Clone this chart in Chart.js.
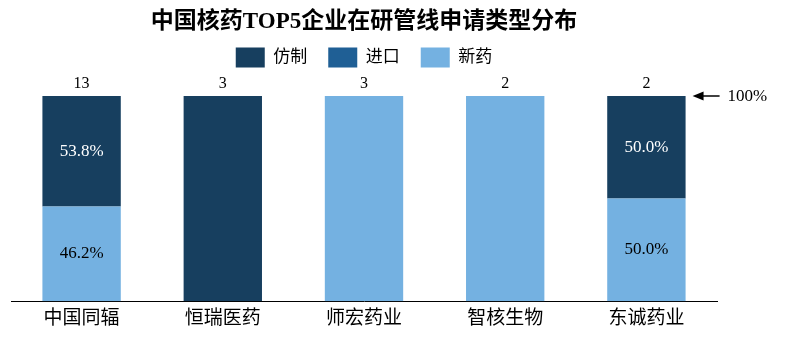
<!DOCTYPE html>
<html><head><meta charset="utf-8">
<script src="https://cdn.jsdelivr.net/npm/chart.js@4.4.1/dist/chart.umd.min.js"></script>
<style>html,body{margin:0;padding:0;background:#fff;}#wrap{width:792px;height:343px;position:relative;}</style>
</head><body><div id="wrap"><canvas id="c"></canvas></div>
<script>
const categories = ['中国同辐', '恒瑞医药', '师宏药业', '智核生物', '东诚药业'];
const seriesNames = ['仿制', '进口', '新药'];
const genericCounts = [7, 3, 0, 0, 1];
const importCounts = [0, 0, 0, 0, 0];
const novelCounts = [6, 0, 3, 2, 1];
const totals = [13, 3, 3, 2, 2];
const titleText = '中国核药TOP5企业在研管线申请类型分布';
const refLabel = '100%';

const FONT = "'Liberation Serif', 'Noto Sans CJK SC', serif";
Chart.defaults.font.family = FONT;
Chart.defaults.color = '#000';

const toPct = arr => arr.map((v, i) => totals[i] ? v / totals[i] * 100 : 0);

const legendGap = {
  id: 'legendGap',
  beforeInit(chart) {
    const f = chart.legend.fit;
    chart.legend.fit = function () { f.call(this); this.height += 18.4; };
  }
};

const barLabels = {
  id: 'barLabels',
  afterDatasetsDraw(chart) {
    const ctx = chart.ctx;
    ctx.save();
    ctx.textAlign = 'center';
    ctx.textBaseline = 'middle';
    chart.data.datasets.forEach((ds, di) => {
      const meta = chart.getDatasetMeta(di);
      meta.data.forEach((bar, i) => {
        const v = ds.data[i];
        if (v > 0 && v < 100) {
          ctx.font = '17px ' + FONT;
          ctx.fillStyle = ds.labelColor;
          ctx.fillText(v.toFixed(1) + '%', bar.x, (bar.y + bar.base) / 2);
        }
      });
    });
    const ys = chart.scales.y, xs = chart.scales.x;
    const yTop = ys.getPixelForValue(100);
    ctx.font = '16px ' + FONT;
    ctx.fillStyle = '#000';
    categories.forEach((c, i) => {
      ctx.fillText(String(totals[i]), xs.getPixelForValue(i), yTop - 12.5);
    });
    // arrow to 100%
    const lastMeta = chart.getDatasetMeta(0).data[categories.length - 1];
    const tip = lastMeta.x + lastMeta.width / 2 + 7;
    const tail = tip + 27;
    ctx.strokeStyle = '#000';
    ctx.lineWidth = 1.5;
    ctx.beginPath();
    ctx.moveTo(tip + 8, yTop);
    ctx.lineTo(tail, yTop);
    ctx.stroke();
    ctx.beginPath();
    ctx.moveTo(tip, yTop);
    ctx.lineTo(tip + 11, yTop - 4.5);
    ctx.lineTo(tip + 11, yTop + 4.5);
    ctx.closePath();
    ctx.fillStyle = '#000';
    ctx.fill();
    ctx.textAlign = 'left';
    ctx.font = '17px ' + FONT;
    ctx.fillText(refLabel, tail + 8, yTop + 1);
    ctx.restore();
  }
};

new Chart(document.getElementById('c'), {
  type: 'bar',
  data: {
    labels: categories,
    datasets: [
      { label: seriesNames[2], data: toPct(novelCounts), backgroundColor: '#74B1E1', labelColor: '#000' },
      { label: seriesNames[1], data: toPct(importCounts), backgroundColor: '#1F5F95', labelColor: '#fff' },
      { label: seriesNames[0], data: toPct(genericCounts), backgroundColor: '#173F5F', labelColor: '#fff' }
    ]
  },
  options: {
    responsive: true,
    maintainAspectRatio: false,
    animation: false,
    datasets: { bar: { barPercentage: 0.555, categoryPercentage: 1, borderWidth: 0 } },
    layout: { padding: { left: 11, right: 75, top: 0, bottom: 7 } },
    plugins: {
      title: {
        display: true,
        text: titleText,
        font: { size: 23, weight: 'bold', family: FONT },
        color: '#000',
        padding: { top: 8, bottom: -9 }
      },
      legend: {
        reverse: true,
        labels: {
          boxWidth: 29,
          boxHeight: 20,
          padding: 21,
          font: { size: 17, family: FONT },
          color: '#000'
        }
      },
      tooltip: { enabled: false }
    },
    scales: {
      x: {
        stacked: true,
        grid: { display: false, drawTicks: false },
        border: { display: true, color: '#000', width: 1 },
        ticks: { font: { size: 19, family: FONT }, color: '#000', padding: 6, maxRotation: 0 }
      },
      y: { stacked: true, display: false, min: 0, max: 100 }
    }
  },
  plugins: [legendGap, barLabels]
});
</script>
</body></html>
